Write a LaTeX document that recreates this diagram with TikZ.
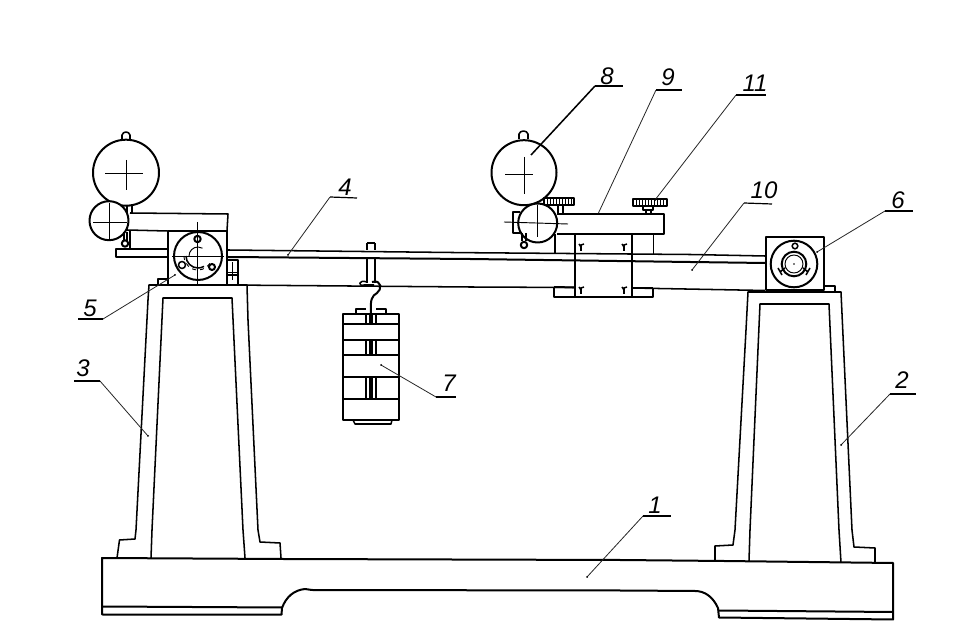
\documentclass[tikz,border=0pt]{standalone}
\usepackage{fontspec}
\setmainfont{Liberation Sans}
\begin{document}
\begin{tikzpicture}[x=0.75pt,y=-0.75pt,
  part/.style={draw=black,line width=1.15pt,line join=round},
  heavy/.style={draw=black,line width=1.5pt,line join=round},
  fine/.style={draw=black,line width=0.7pt},
  leader/.style={draw=black!85,line width=0.6pt},
  shelf/.style={draw=black,line width=0.9pt},
  tag/.style={font=\itshape\fontsize{18}{18}\selectfont,inner sep=0pt},
  dot/.style={fill=black,circle,inner sep=0.6pt}]
\useasboundingbox (0,0) rectangle (965,641);
\fill[white] (0,0) rectangle (965,641);

% base
\draw[heavy] (102,558) -- (283,559) -- (620,560) -- (724,561) -- (893,563) -- (893,619.5) -- (719,617.5)
  -- (718,608) .. controls (713,597) and (705,591) .. (695,591) -- (620,590.5) -- (312,590) -- (305,589)
  .. controls (294,590) and (286,597) .. (282,608) -- (281.5,614.7) -- (102,614.5) -- cycle;
\draw[heavy] (102,606.5) -- (282,607.5);
\draw[heavy] (719,610.5) -- (893,612);

% left stand
\draw[part] (117,558) -- (119.5,540) -- (135,539) -- (136,530) -- (148,300) -- (149,285) -- (247,285) -- (248,320) -- (258,530) -- (260,542) -- (280,543) -- (281,558);
\draw[part] (151,558) -- (152,530) -- (163,298) -- (232,298) -- (243,530) -- (245,558);

% right stand
\draw[part] (715,561) -- (715,546) -- (733,545) -- (735,530) -- (746,330) -- (748,292) -- (841,292) -- (852,530) -- (854,547) -- (875,548) -- (875,563);
\draw[part] (749,561) -- (750,530) -- (760,304) -- (829,304) -- (839,530) -- (841,562.5);

% beams
\draw[part] (228,250) -- (470,252.7) -- (690,254.5) -- (765,256);
\draw[heavy] (228,257) -- (470,259) -- (690,262) -- (765,263);
\draw[part] (228,285) -- (470,287) -- (575,287.5);
\draw[part] (632,288) -- (765,290.5);

% left block
\draw[heavy] (167.7,231) rectangle (226.7,285);
\draw[part] (130,213) -- (228,214) -- (227,231);
\draw[part] (127,230) -- (167.7,231);
\draw[part] (130,230) -- (130,249);
\draw[heavy] (115.7,249.3) rectangle (167.7,257);
\draw[heavy] (198,256) circle[radius=24];
\draw[fine] (197,222) -- (197,285);
\draw[fine] (172,256) -- (224,256);
\draw[fine] (189,256) arc[start angle=180,end angle=300,radius=9];
\draw[part] (186,256) arc[start angle=180,end angle=60,radius=12];
\draw[fine,dashed] (184,256) arc[start angle=180,end angle=20,radius=14];
\draw[heavy] (197.5,239) circle[radius=3.2];
\draw[part] (182,265) circle[radius=3.5];
\draw[heavy] (212,267) circle[radius=3];
\draw[part] (158,285) -- (158,279) -- (167,279);
\draw[heavy] (227,260) rectangle (238,285);
\draw[fine] (232,262) -- (232,280);
\draw[fine] (227,272) -- (238,272);
\draw[part] (227,275) -- (238,275);

% left dials
\draw[heavy] (126,172.7) circle[radius=33];
\draw[part] (122,140) -- (122,135) .. controls (123,131) and (129,131) .. (130,135) -- (130,140);
\draw[fine] (105,173) -- (143,173);
\draw[fine] (126,160) -- (126,190);
\draw[part] (127,205) -- (127,213);
\draw[part] (132,205) -- (132,213);
\draw[heavy,fill=white] (109,220.7) circle[radius=19.5];
\draw[fine] (109,203) -- (109,239);
\draw[fine] (93,222) -- (127,222);
\draw[part] (124,232) -- (124,241);
\draw[part] (127,232) -- (127,241);
\draw[heavy] (125,243.5) circle[radius=3.2];

% right slide
\draw[heavy] (557,214) -- (664,214) -- (664,234) -- (557,234);
\draw[part] (520,212) -- (513,212) -- (513,233) -- (520,233);
\draw[part] (555,234) -- (555,253);
\draw[heavy] (575,234) -- (575,297);
\draw[heavy] (632,234) -- (632,297);
\draw[part] (653.5,234) -- (653.5,254);
\draw[heavy] (554,287) -- (575,287.5);
\draw[part] (632,288) -- (653,288);
\draw[heavy] (554,287) -- (554,297) -- (653,297) -- (653,288);
\foreach \mx/\my in {581/247,624/247,581/290,624/290}
  \draw[part] (\mx,\my+4) -- (\mx,\my-2) -- (\mx+3,\my-3) (\mx,\my) -- (\mx-2,\my-3);

% knobs
\draw[heavy] (544,198) rectangle (574,205);
\draw[heavy] (633,199) rectangle (667,206);
\foreach \kx in {547,550,...,571} \draw[fine] (\kx,198) -- (\kx,205);
\foreach \kx in {636,639,...,664} \draw[fine] (\kx,199) -- (\kx,206);
\draw[part] (558,205) -- (558,214) (563,205) -- (563,214);
\draw[part] (643,206) -- (643,210) -- (653,210) -- (653,206);
\draw[part] (646,210) -- (646,214) (651,210) -- (651,214);

% right dials
\draw[heavy] (524,172.7) circle[radius=32.5];
\draw[part] (519,139) -- (519,134) .. controls (520,130) and (527,130) .. (528,134) -- (528,139);
\draw[fine] (505,174) -- (533,174);
\draw[fine] (524,157) -- (524,194);
\draw[heavy,fill=white] (537.7,223) circle[radius=19.5];
\draw[fine] (504,222) -- (568,224);
\draw[fine] (537,205) -- (537,237);
\draw[part] (522,233) -- (522,241) (526,233) -- (526,241);
\draw[heavy] (524,245) circle[radius=3.2];

% right block
\draw[heavy] (765.7,237) rectangle (824,290);
\draw[part] (824,286) -- (835,286) -- (835,292);
\draw[heavy] (794,264) circle[radius=23.3];
\draw[heavy] (794,264) circle[radius=12.3];
\draw[fine] (794,264) circle[radius=9];
\fill (794,264) circle[radius=0.8];
\draw[part] (795,246) circle[radius=2.8];
\draw[part] (780,272) -- (785,268) (778,268) -- (782,275);
\draw[part] (808,272) -- (803,268) (810,268) -- (806,275);

% hook and weights
\draw[part] (367,243) -- (367,250) (375,243) -- (375,250) (367,243) -- (375,243);
\draw[heavy] (367,258) -- (367,283) (375,258) -- (375,283);
\draw[part] (367,282) .. controls (358,279) and (358,287) .. (364,285) -- (374,285);
\draw[heavy] (372,282) .. controls (382,279) and (382,290) .. (377,293) .. controls (372,296) and (370,299) .. (371,314);
\draw[part] (356,314) -- (356,309) -- (366,309) (376,309) -- (386,309) -- (386,314);
\draw[heavy] (343,314) rectangle (399,420);
\foreach \wy in {324,340,355,377,399} \draw[heavy] (343,\wy) -- (399,\wy);
\foreach \ya/\yb in {314/324,340/355,377/399}
  \draw[part] (366,\ya) -- (366,\yb) (370,\ya) -- (370,\yb) (372,\ya) -- (372,\yb) (376,\ya) -- (376,\yb);
\draw[part] (353,420) -- (355,424) -- (391,424) -- (392,420);

% leaders and labels
\coordinate (t1) at (587,577);  \coordinate (k1) at (643,516);  \coordinate (e1) at (671,516);
\coordinate (t2) at (841,445);  \coordinate (k2) at (890,394);  \coordinate (e2) at (916,394);
\coordinate (t3) at (148,436);  \coordinate (k3) at (100,381);  \coordinate (e3) at (74,381);
\coordinate (t4) at (288,255);  \coordinate (k4) at (330,197);  \coordinate (e4) at (357,198);
\coordinate (t5) at (175,275);  \coordinate (k5) at (103,319);  \coordinate (e5) at (78,319);
\coordinate (t6) at (817,252);  \coordinate (k6) at (885,211);  \coordinate (e6) at (913,211);
\coordinate (t7) at (381,365);  \coordinate (k7) at (436,397);  \coordinate (e7) at (456,397);
\coordinate (t8) at (531,155);  \coordinate (k8) at (595,86);   \coordinate (e8) at (623,86);
\coordinate (t9) at (598,214);  \coordinate (k9) at (656,90);   \coordinate (e9) at (682,90);
\coordinate (t10) at (692,270); \coordinate (k10) at (744,203); \coordinate (e10) at (772,204);
\coordinate (t11) at (655,200); \coordinate (k11) at (736,95);  \coordinate (e11) at (766,95);
\foreach \n in {1,...,7,9,10,11} {
  \draw[leader] (t\n) -- (k\n);
  \draw[shelf] (k\n) -- (e\n);
  \fill (t\n) circle[radius=1];
}
\draw[part] (t8) -- (k8);
\draw[shelf] (k8) -- (e8);
\node[tag] (n1) at (655,505) {1};
\node[tag] (n2) at (902,380) {2};
\node[tag] (n3) at (83,368) {3};
\node[tag] (n4) at (345,187) {4};
\node[tag] (n5) at (90,308) {5};
\node[tag] (n6) at (898,200) {6};
\node[tag] (n7) at (449,383) {7};
\node[tag] (n8) at (607,76) {8};
\node[tag] (n9) at (668,77) {9};
\node[tag] (n10) at (764,190) {10};
\node[tag] (n11) at (755,83) {11};
\end{tikzpicture}
\end{document}
